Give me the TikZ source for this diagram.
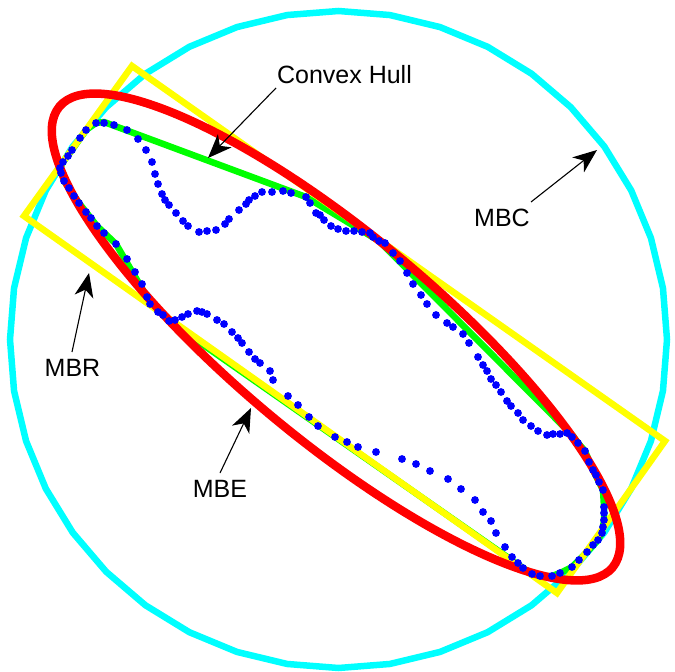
\documentclass[tikz,border=0pt]{standalone}
\usepackage{fontspec}
\setmainfont{Liberation Sans}
\usetikzlibrary{arrows.meta}
\definecolor{pgreen}{RGB}{0,255,0}
\definecolor{pyellow}{RGB}{255,255,0}
\definecolor{pred}{RGB}{255,0,0}
\definecolor{pcyan}{RGB}{0,255,255}
\definecolor{pblue}{RGB}{0,0,255}
\tikzset{
  mbcline/.style={draw=pcyan,line width=6.5pt,line join=miter},
  hullline/.style={draw=pgreen,line width=6.5pt,line join=round},
  mbrline/.style={draw=pyellow,line width=6.5pt,line join=miter},
  mbeline/.style={draw=pred,line width=8.5pt},
  pt/.style={fill=pblue},
  lab/.style={font=\fontsize{25}{30}\selectfont,inner sep=0pt,anchor=base},
  callout/.style={draw=black,line width=1.1pt,-{Stealth[length=24pt,width=19pt,inset=7pt]}}
}
\begin{document}
\begin{tikzpicture}[x=1pt,y=-1pt]
\useasboundingbox (0,0) rectangle (675,672);
% minimum bounding circle (polygonal)
\draw[mbcline] (338.5+328.5,339.5)
  \foreach \a in {9,18,...,351}{ -- ({338.5+328.5*cos(\a)},{339.5+328.5*sin(\a)}) } -- cycle;
% convex hull
\draw[hullline] (96,123) -- (104,122) -- (306,197) -- (379,241) -- (573,436) -- (578,443)
  -- (585,451) -- (593,470) -- (603,490) -- (604,507) -- (604,520) -- (602,533) -- (598,540)
  -- (587,552) -- (572,567) -- (560,573) -- (552,576) -- (540,576) -- (532,574) -- (523,568)
  -- (169,321) -- (147,297) -- (116,244) -- (97,226) -- (79,203) -- (64,181) -- (60,168)
  -- (63,162) -- (72,150) -- (86,130) -- cycle;
% minimum bounding rectangle
\coordinate (ra) at (132,66);
\coordinate (rb) at (665,441);
\coordinate (rc) at (557,593);
\coordinate (rd) at (24,216);
\draw[mbrline] (ra) -- (rb) -- (rc) -- (rd) -- cycle;
% minimum bounding ellipse
\coordinate (ec) at (336,337);
\draw[mbeline,shift={(ec)},rotate=-39.8] (0,0) ellipse [x radius=360pt, y radius=102pt];
% points
\foreach \p in {(96,123),(104,123),(114,125),(127,130),(138,139),(146,150),(152,162),(155,174),
 (158,184),(162,194),(165,200),(169,205),(176,213),(183,221),(188,226),(199,232),(207,231),
 (216,230),(225,224),(229,219),(239,210),(246,204),(249,200),(255,196),(262,192),(272,192),
 (283,191),(291,193),(306,197),(310,203),(316,213),(320,215),(324,220),(331,226),(338,229),
 (346,231),(354,231),(362,232),(370,233),(373,237),(379,241),(385,243),(393,253),(400,261),
 (407,273),(413,284),(421,295),(427,304),(436,315),(447,323),(453,327),(463,334),(469,343),
 (478,357),(483,365),(487,371),(491,379),(496,385),(501,392),(507,401),(511,406),(518,413),
 (523,420),(531,426),(538,431),(547,435),(553,434),(560,434),(567,433),(572,437),(578,443),
 (585,451),(589,462),(593,470),(596,475),(599,482),(603,490),(604,507),(604,513),(604,520),
 (603,527),(602,533),(598,540),(593,545),(587,552),(579,560),(572,567),(560,573),(552,576),
 (540,576),(532,574),(523,568),(518,563),(512,557),(505,547),(496,533),(491,521),(483,512),
 (475,500),(461,489),(448,479),(430,471),(416,464),(402,459),(376,452),(358,447),(347,442),
 (335,437),(318,426),(309,417),(298,405),(288,396),(273,380),(270,371),(260,363),(255,359),
 (249,352),(242,343),(238,338),(232,332),(224,324),(217,320),(207,314),(202,312),(197,311),
 (188,314),(182,317),(175,320),(169,321),(163,315),(158,312),(150,304),(147,297),(142,284),
 (135,272),(127,259),(116,244),(104,233),(97,226),(91,218),(86,212),(79,203),(74,196),
 (69,188),(64,181),(61,173),(60,168),(63,162),(68,156),(72,150),(80,138),(86,130)}
  {\fill[pt] \p circle [radius=3.9pt];}
% labels
\node[lab] (lhull) at (344.5,83) {Convex Hull};
\node[lab] (lmbc) at (502,226) {MBC};
\node[lab] (lmbr) at (72.5,376) {MBR};
\node[lab] (lmbe) at (220,497) {MBE};
\coordinate (thull) at (276,88);
\coordinate (hhull) at (208,158);
\coordinate (tmbc) at (531,202);
\coordinate (hmbc) at (597,150);
\coordinate (tmbr) at (72,352);
\coordinate (hmbr) at (89,273);
\coordinate (tmbe) at (220,473);
\coordinate (hmbe) at (251,408);
\draw[callout] (thull) -- (hhull);
\draw[callout] (tmbc) -- (hmbc);
\draw[callout] (tmbr) -- (hmbr);
\draw[callout] (tmbe) -- (hmbe);
\end{tikzpicture}
\end{document}
